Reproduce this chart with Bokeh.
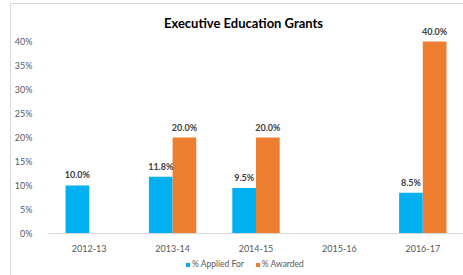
from bokeh.plotting import figure
from bokeh.models import (ColumnDataSource, FactorRange, Range1d, FixedTicker, PrintfTickFormatter,
                          LabelSet, Label, Legend, LegendItem, CategoricalAxis)
from bokeh.transform import dodge
from bokeh.embed import file_html
from bokeh.resources import INLINE
from bokeh.core.properties import value

categories = ["2012-13", "2013-14", "2014-15", "2015-16", "2016-17"]
applied = [10.0, 11.8, 9.5, None, 8.5]
awarded = [None, 20.0, 20.0, None, 40.0]
y_ticks = [0, 5, 10, 15, 20, 25, 30, 35, 40]

BLUE = "#00B0F0"
ORANGE = "#ED7D31"
FONT = "Lato"

nan = float("nan")
src = ColumnDataSource(dict(
    cat=categories,
    applied=[nan if v is None else v for v in applied],
    awarded=[nan if v is None else v for v in awarded],
))

a_idx = [i for i, v in enumerate(applied) if v is not None]
w_idx = [i for i, v in enumerate(awarded) if v is not None]
lab_a = ColumnDataSource(dict(cat=[categories[i] for i in a_idx], y=[applied[i] for i in a_idx],
                              t=["%.1f%%" % applied[i] for i in a_idx]))
lab_w = ColumnDataSource(dict(cat=[categories[i] for i in w_idx], y=[awarded[i] for i in w_idx],
                              t=["%.1f%%" % awarded[i] for i in w_idx]))

p = figure(width=453, height=272, x_range=FactorRange(*categories),
           y_range=Range1d(-8.96, 47.71), output_backend="svg", toolbar_location=None,
           x_axis_location=None,
           min_border_left=31, min_border_right=0, min_border_top=0, min_border_bottom=0)
p.margin = (3, 0, 0, 10)
p.styles = {"border-left": "1px solid #d9d9d9", "border-top": "1px solid #d9d9d9"}
p.x_range.range_padding = 0
p.x_range.factor_padding = 0
p.title.visible = False

title = Label(x=231, y=17, x_units="canvas", y_units="canvas", text="Executive Education Grants",
              text_align="center", text_baseline="middle", text_font=FONT,
              text_font_size="13px", text_font_style="bold", text_color="#000000")
p.add_layout(title)

W = 0.284
r1 = p.vbar(x=dodge("cat", -W / 2, range=p.x_range), top="applied", width=W, source=src,
            fill_color=BLUE, line_color=None)
r2 = p.vbar(x=dodge("cat", W / 2, range=p.x_range), top="awarded", width=W, source=src,
            fill_color=ORANGE, line_color=None)

for s, off in ((lab_a, -W / 2), (lab_w, W / 2)):
    ls = LabelSet(x=dodge("cat", off, range=p.x_range), y="y", text="t", source=s,
                  text_align="center", text_baseline="bottom", y_offset=5,
                  text_font=value(FONT), text_font_size="9px", text_font_style="bold",
                  text_color="#404040")
    p.add_layout(ls)

p.yaxis.ticker = FixedTicker(ticks=y_ticks)
p.yaxis.formatter = PrintfTickFormatter(format="%d%%")
p.yaxis.axis_line_color = None
p.yaxis.major_tick_line_color = None
p.yaxis.minor_tick_line_color = None
p.yaxis.major_label_text_font = FONT
p.yaxis.major_label_text_font_size = "9px"
p.yaxis.major_label_text_color = "#595959"
p.yaxis.major_label_standoff = 9

xaxis = CategoricalAxis(fixed_location=0)
xaxis.axis_line_color = "#d9d9d9"
xaxis.major_tick_line_color = None
xaxis.minor_tick_line_color = None
xaxis.major_label_text_font = FONT
xaxis.major_label_text_font_size = "9px"
xaxis.major_label_text_color = "#595959"
xaxis.major_label_standoff = 6
p.add_layout(xaxis, "below")

p.xgrid.grid_line_color = None
p.ygrid.grid_line_color = None
p.outline_line_color = None

legend = Legend(items=[LegendItem(label="% Applied For", renderers=[r1]),
                       LegendItem(label="% Awarded", renderers=[r2])],
                location=(138, 7), orientation="horizontal",
                glyph_width=5, glyph_height=5, label_text_font=FONT,
                label_text_font_size="8.5px", label_text_color="#595959",
                label_standoff=2, spacing=11, padding=0, margin=0,
                label_height=9,
                border_line_color=None, background_fill_alpha=0)
p.add_layout(legend)

open("out.html", "w").write(file_html(p, INLINE))
